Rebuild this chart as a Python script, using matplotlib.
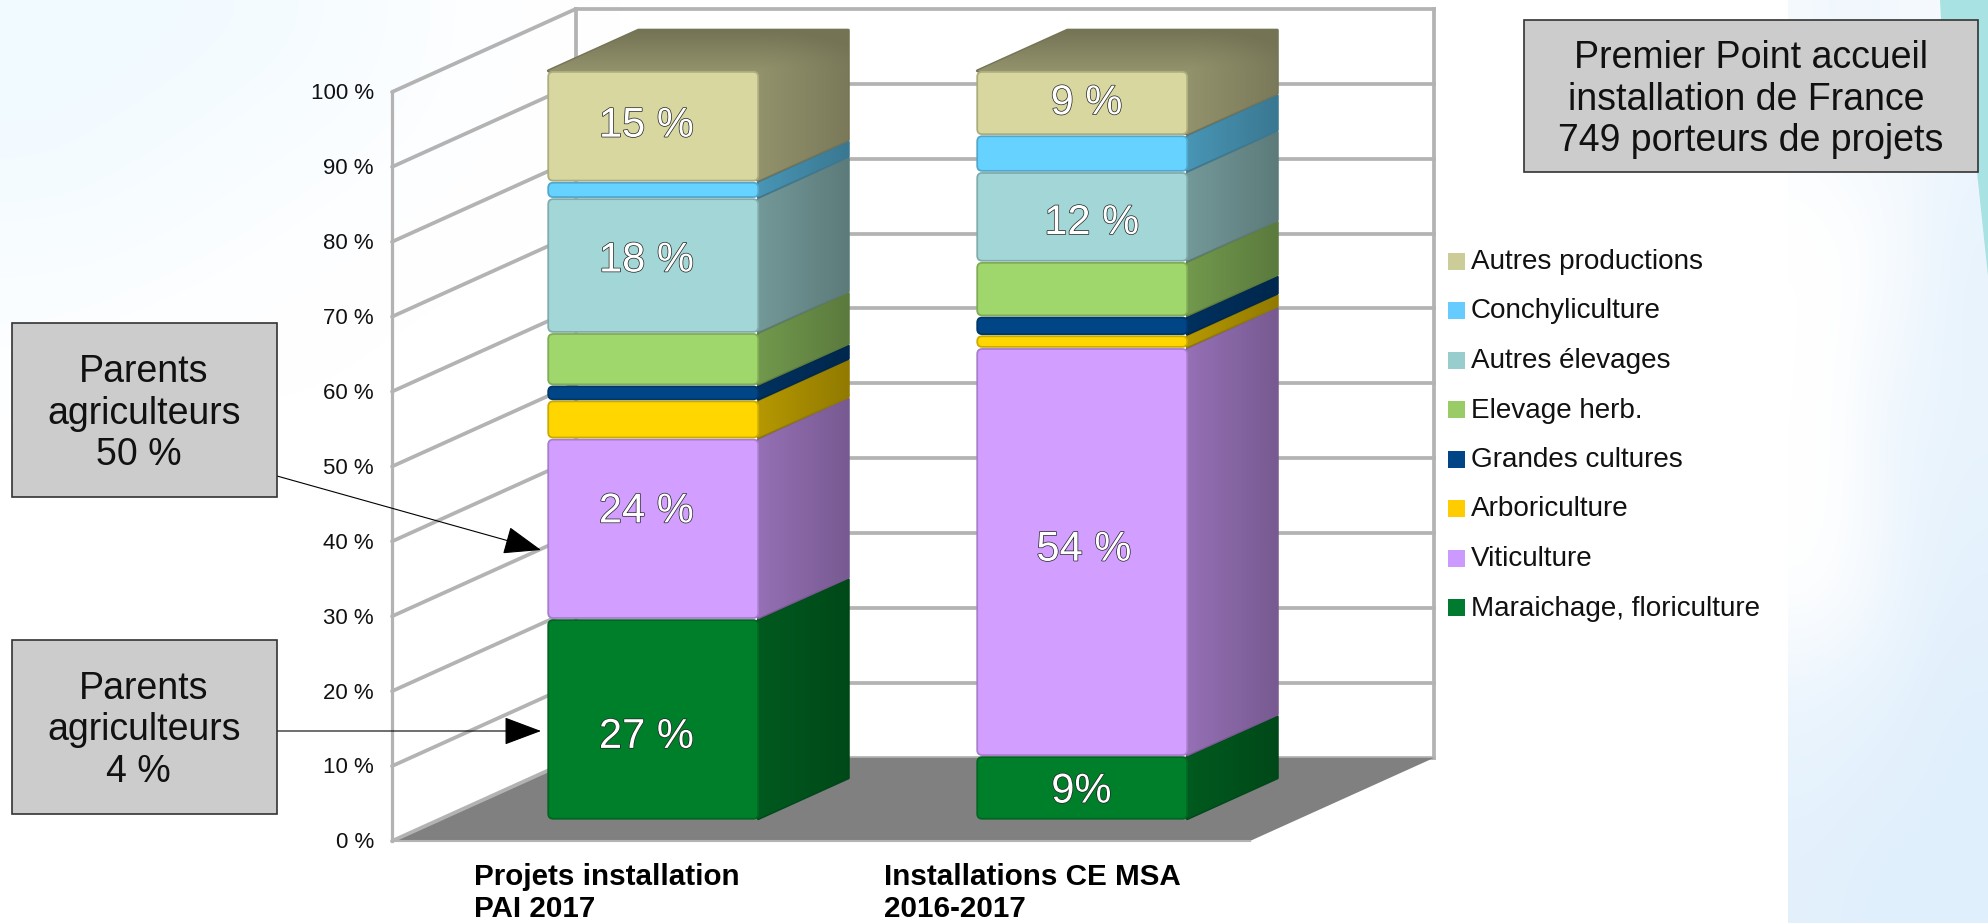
import numpy as np
import matplotlib
matplotlib.use("Agg")
import matplotlib.pyplot as plt
import matplotlib.patheffects as pe
from matplotlib.colors import LinearSegmentedColormap, to_rgb
from matplotlib.patches import FancyBboxPatch, Polygon, Rectangle
from matplotlib.transforms import Affine2D

plt.rcParams['font.family'] = ['Liberation Sans', 'DejaVu Sans']

# ---------- data ----------
series = ["Maraichage, floriculture", "Viticulture", "Arboriculture", "Grandes cultures",
          "Elevage herb.", "Autres élevages", "Conchyliculture", "Autres productions"]
projets_pai = [26.8, 24.1, 5.1, 2.0, 7.0, 18.0, 2.2, 14.8]
installations_msa = [8.5, 54.5, 1.7, 2.5, 7.3, 12.0, 4.9, 8.6]
categories = ["Projets installation\nPAI 2017", "Installations CE MSA\n2016-2017"]
yticks = list(range(0, 101, 10))
face_colors = ["#007f2b", "#d29eff", "#ffd600", "#004586", "#a0d76c", "#a3d7d7", "#66d2ff", "#d7d79f"]
legend_colors = ["#007a2e", "#cc99ff", "#ffcc00", "#004586", "#99cc66", "#99cccc", "#66ccff", "#cccc99"]
labels_pai = ["27 %", "24 %", "18 %", "15 %"]
labels_pai_y = [13.9, 44.0, 77.5, 95.5]
labels_pai_x = [0.093, 0.093, 0.093, 0.093]
labels_msa = ["9%", "54 %", "12 %", "9 %"]
labels_msa_y = [6.6, 38.9, 82.5, 98.5]
labels_msa_x = [1.107, 1.113, 1.131, 1.119]
notes = ["Parents\nagriculteurs\n50 % ", "Parents\nagriculteurs\n4 % "]
title_note = "Premier Point accueil\ninstallation de France \n749 porteurs de projets"

# background tints (hand-read intensities)
right_tint = [[.35, .50, .40, .30, .30],
              [.15, .30, .40, .50, .60],
              [.00, .05, .20, .50, .70],
              [.00, .05, .30, .55, .75],
              [.00, .10, .50, .60, .70],
              [.00, .10, .45, .70, .80],
              [.05, .20, .50, .80, .85],
              [.60, .70, .80, .90, .95],
              [.80, .85, .90, .95, 1.0],
              [.90, .95, 1.0, 1.0, 1.0]]
left_tint = [[1.0, .90, .80, .50, .15, 0],
             [.90, .80, .60, .40, .10, 0],
             [.80, .60, .40, .20, .05, 0],
             [.50, .40, .20, .05, 0, 0],
             [.30, .15, .05, 0, 0, 0],
             [.10, 0, 0, 0, 0, 0]]

W, H = 1988, 923
fig = plt.figure(figsize=(W / 100, H / 100), dpi=100, facecolor="white")

# ---------- background ----------
bg = fig.add_axes([0, 0, 1, 1])
bg.imshow(right_tint, extent=(1788, 1988, 923, 0), aspect="auto", interpolation="bicubic",
          cmap=LinearSegmentedColormap.from_list("r", ["#ffffff", "#e0effc"]), vmin=0, vmax=1)
bg.imshow(left_tint, extent=(0, 620, 420, 0), aspect="auto", interpolation="bicubic",
          cmap=LinearSegmentedColormap.from_list("l", ["#ffffff", "#f0faff"]), vmin=0, vmax=1)
bg.add_patch(Polygon([(1940, 0), (1942, 40), (1958, 110), (1977, 172), (1988, 276), (1988, 0)],
                     closed=True, fc="#a9e2e2", ec="none"))
bg.set_xlim(0, W); bg.set_ylim(H, 0); bg.axis("off")

# ---------- main axes: x categories, y percent ----------
PX_CAT = 429.0
PX_PCT = 7.49
X0 = 606.5          # pixel of category 0 on the front plane
Y0 = 841.0          # pixel of 0 %
ax = fig.add_axes([0, 0, 1, 1], facecolor="none")
ax.set_xlim(-X0 / PX_CAT, (W - X0) / PX_CAT)
ax.set_ylim((Y0 - H) / PX_PCT, Y0 / PX_PCT)
ax.axis("off")

DX, DY = 184 / PX_CAT, 11.1     # oblique shift of full depth
D0, D1 = 0.255, 0.745           # bar depth
HALF = 105 / PX_CAT


def proj(x, y, d):
    return x + d * DX, y + d * DY


grid = "#b3b3b3"
LW = 2.7
xl, xr = -0.5, 1.5
# floor
ax.add_patch(Polygon([proj(xl, 0, 0), proj(xr, 0, 0), proj(xr, 0, 1), proj(xl, 0, 1)],
                     closed=True, fc="#808080", ec="none", zorder=1))
# walls
for v in yticks:
    ax.plot(*zip(proj(xl, v, 0), proj(xl, v, 1)), color=grid, lw=LW, zorder=0.5 if v else 1.2,
            solid_capstyle="round")
    ax.plot(*zip(proj(xl, v, 1), proj(xr, v, 1)), color=grid, lw=LW, zorder=0.5)
    ax.text((374 - X0) / PX_CAT, v - 0.25, f"{v} %", ha="right", va="center", fontsize=16, color="#111111")
ax.plot(*zip(proj(xl, 0, 0), proj(xl, 100, 0)), color=grid, lw=LW - .4, zorder=0.6)
ax.plot(*zip(proj(xl, 0, 1), proj(xl, 100, 1)), color=grid, lw=LW, zorder=0.6)
ax.plot(*zip(proj(xr, 0, 1), proj(xr, 100, 1)), color=grid, lw=LW, zorder=0.6)
ax.plot(*zip(proj(xl, 0, 0), proj(xr, 0, 0)), color=grid, lw=1.5, zorder=1.1)


def mix(c, f):
    return tuple(np.array(to_rgb(c)) * f)


def shade_poly(pts, field, c0, c1, z):
    """Fill polygon pts with colours c0..c1 following field(X, Y) in 0..1."""
    pts = np.array(pts)
    x0, x1, y0, y1 = pts[:, 0].min(), pts[:, 0].max(), pts[:, 1].min(), pts[:, 1].max()
    X, Y = np.meshgrid(np.linspace(x0, x1, 128), np.linspace(y1, y0, 128))
    t = np.clip(field(X, Y), 0, 1)[..., None]
    img = np.array(c0)[None, None] * (1 - t) + np.array(c1)[None, None] * t
    ax.add_patch(Polygon(pts, closed=True, fc="none", ec=c1, lw=2.0, joinstyle="round", zorder=z))
    im = ax.imshow(img, extent=(x0, x1, y0, y1), origin="upper", aspect="auto", zorder=z,
                   interpolation="bilinear")
    im.set_clip_path(Polygon(pts, closed=True, transform=ax.transData))


def draw_bar(c, values):
    base = 0.0
    zb = 3
    n = len(values)
    for i, (v, col) in enumerate(zip(values, face_colors)):
        top = base + v
        fx, fb = proj(c - HALF, base, D0)
        _, ft = proj(c - HALF, top, D0)
        fx -= 0.2 / PX_CAT
        fr = fx + 2 * HALF
        bx = fr + (D1 - D0) * DX
        off = (D1 - D0) * DY
        gap = 0.14
        z = zb + i * 0.1
        if i == n - 1:
            field = lambda X, Y, fr=fr, bx=bx, ft=ft, off=off: np.hypot(
                np.clip((X - fr) / (bx - fr), 0, 1) * 0.8, np.clip((Y - ft) / off, 0, 1))
            shade_poly([(fx, ft), (fr, fb + gap), (bx, fb + off + gap), (bx, ft + off),
                        (fx + (D1 - D0) * DX, ft + off)], field, mix(col, .68), mix(col, .54), z)
        else:
            field = lambda X, Y, fr=fr, bx=bx: (X - fr) / (bx - fr)
            shade_poly([(fr, fb + gap), (bx, fb + off + gap), (bx, ft + off - gap), (fr, ft - gap)],
                       field, mix(col, .71), mix(col, .57), z)
        r = 5 / PX_CAT
        ax.add_patch(FancyBboxPatch((fx, fb + gap), 2 * HALF, v - 2 * gap,
                                    boxstyle=f"round,pad=0,rounding_size={r}",
                                    mutation_aspect=PX_CAT / PX_PCT, fc=col, ec=mix(col, .8),
                                    lw=1.3, zorder=zb + 1 + i * 0.1))
        base = top


def value_labels(labels, xs, ys):
    for t, x, y in zip(labels, xs, ys):
        ax.text(x, y, t, ha="center", va="center", fontsize=30, color="white", zorder=8,
                path_effects=[pe.withStroke(linewidth=1.0, foreground="#222222")])


draw_bar(0, projets_pai)
draw_bar(1, installations_msa)
value_labels(labels_pai, labels_pai_x, labels_pai_y)
value_labels(labels_msa, labels_msa_x, labels_msa_y)

# ---------- pixel-placed furniture ----------
px = Affine2D().scale(1 / W, -1 / H).translate(0, 1) + fig.transFigure

for cat, x in zip(categories, (474, 884)):
    fig.text(x, 893, cat, transform=px, ha="left", va="center", fontsize=21.3, fontweight="bold",
             linespacing=1.14, color="black")

# legend
for i, (name, col) in enumerate(zip(series[::-1], legend_colors[::-1])):
    yc = 262 + i * 49.5
    fig.patches.append(Rectangle((1448, yc - 9.5), 17, 17, transform=px, fc=col, ec="none", figure=fig))
    fig.text(1471, yc, name, transform=px, ha="left", va="center", fontsize=20.1, color="#111111")


def box(x0, y0, x1, y1, text):
    fig.patches.append(Rectangle((x0, y0), x1 - x0, y1 - y0, transform=px, fc="#cccccc", ec="#333333",
                                 lw=1.2, figure=fig, zorder=9))
    fig.text((x0 + x1) / 2, (y0 + y1) / 2 + 3.5, text, transform=px, ha="center", va="center", fontsize=27,
             linespacing=1.2, color="#111111", zorder=10)


box(1524, 20, 1978, 172, title_note)
box(11.5, 323, 276.5, 497, notes[0])
box(11.5, 640, 276.5, 814, notes[1])

for start, tip in [((277, 476), (541, 550)), ((277, 731), (541, 731))]:
    ax.annotate("", xy=tip, xytext=start, xycoords=px, textcoords=px, zorder=9,
                arrowprops=dict(arrowstyle="-|>,head_length=24,head_width=9", mutation_scale=1,
                                lw=0.8, color="black", fc="black", shrinkA=0, shrinkB=0))

fig.savefig("out.png", dpi=100)
